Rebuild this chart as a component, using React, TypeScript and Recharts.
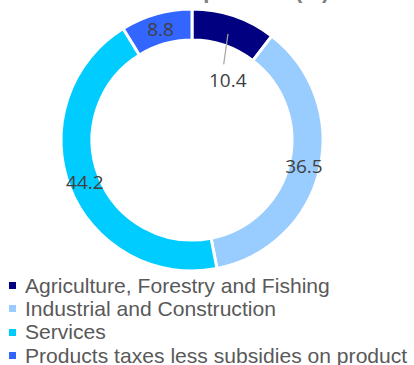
import { PieChart, Pie, Cell, Legend } from "recharts";

const sectors = [
  "Agriculture, Forestry and Fishing",
  "Industrial and Construction",
  "Services",
  "Products taxes less subsidies on product",
];
const shares = [10.4, 36.5, 44.2, 8.8];
const colors = ["#000080", "#99CCFF", "#00CCFF", "#3366FF"];
const title = "GDP composition (%)";

const data = sectors.map((name, i) => ({ name, value: shares[i] }));
const RAD = Math.PI / 180;

function renderLabel(props: any) {
  const { cx, cy, midAngle, index, value } = props;
  const pt = (r: number, a: number) => ({
    x: cx + r * Math.cos(-a * RAD),
    y: cy + r * Math.sin(-a * RAD),
  });
  const style = {
    fontFamily: "'Open Sans', sans-serif",
    fontSize: 19,
    fill: "#404040",
  };
  // the small first slice has its label pulled inside the ring
  if (index === 0) {
    const a = pt(112, midAngle);
    const b = pt(82, midAngle - 4);
    const t = pt(70, midAngle - 12);
    return (
      <g>
        <line x1={a.x} y1={a.y} x2={b.x} y2={b.y} stroke="#A6A6A6" strokeWidth={1.2} />
        <text x={t.x} y={t.y} textAnchor="middle" dominantBaseline="central" {...style}>
          {value}
        </text>
      </g>
    );
  }
  const p = pt(115, midAngle);
  return (
    <text x={p.x} y={p.y} textAnchor="middle" dominantBaseline="central" {...style}>
      {value}
    </text>
  );
}

function LegendList() {
  return (
    <div style={{ fontFamily: "'Liberation Sans', Arial, sans-serif", fontSize: 21.1, color: "#595959" }}>
      {sectors.map((s, i) => (
        <div key={s} style={{ display: "flex", alignItems: "center", height: 23.3, whiteSpace: "nowrap" }}>
          <span style={{ width: 7, height: 7, background: colors[i], marginLeft: 9, marginRight: 9, flex: "none" }} />
          <span>{s}</span>
        </div>
      ))}
    </div>
  );
}

export default function App() {
  return (
    <div style={{ position: "absolute", left: 0, top: 0, width: 414, height: 365, overflow: "hidden", background: "#fff" }}>
      <div
        style={{
          position: "absolute",
          left: 0,
          width: 414,
          top: -21,
          textAlign: "center",
          paddingLeft: 10,
          fontFamily: "'Liberation Sans', Arial, sans-serif",
          fontWeight: "bold",
          fontSize: 22,
          lineHeight: "24px",
          color: "#7f7f7f",
        }}
      >
        {title}
      </div>
      <PieChart width={414} height={365} margin={{ top: 0, right: 0, bottom: 0, left: 0 }}>
        <Pie
          data={data}
          dataKey="value"
          nameKey="name"
          cx={192}
          cy={140}
          outerRadius={131}
          innerRadius={100}
          startAngle={90}
          endAngle={-270}
          stroke="#fff"
          strokeWidth={3}
          label={renderLabel}
          labelLine={false}
          isAnimationActive={false}
        >
          {data.map((d, i) => (
            <Cell key={d.name} fill={colors[i]} />
          ))}
        </Pie>
        <Legend
          content={() => <LegendList />}
          wrapperStyle={{ position: "absolute", left: 0, top: 274, width: 414 }}
        />
      </PieChart>
    </div>
  );
}
